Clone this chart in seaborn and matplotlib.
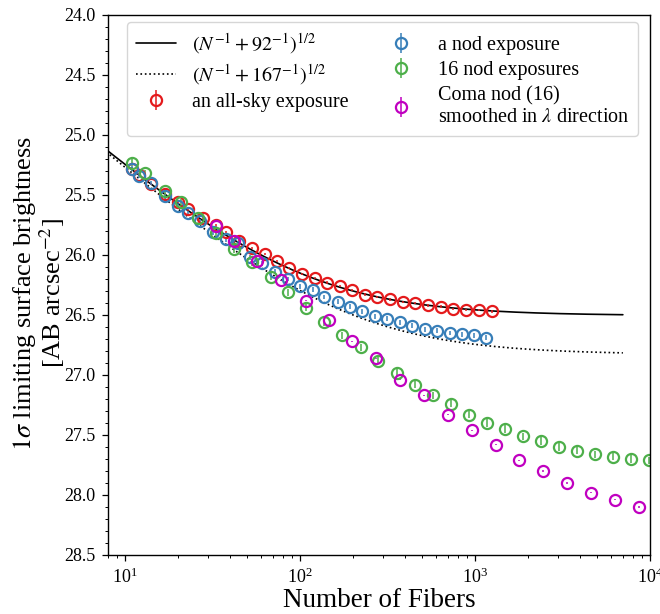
import numpy as np
import pandas as pd
import matplotlib
matplotlib.use("Agg")
import matplotlib.pyplot as plt
from matplotlib.ticker import MultipleLocator, FormatStrFormatter
import seaborn as sns

# ---- measured limiting surface brightness vs. number of fibers ----
allsky_n = [11, 12, 14, 17, 20, 23, 28, 33, 38, 45, 53, 63, 74, 87, 103, 122, 143,
            169, 199, 235, 277, 327, 386, 456, 542, 639, 753, 889, 1050, 1246]
allsky_mu = [25.28, 25.33, 25.41, 25.49, 25.56, 25.62, 25.69, 25.75, 25.81, 25.88,
             25.94, 25.99, 26.05, 26.11, 26.16, 26.19, 26.23, 26.26, 26.29, 26.33,
             26.35, 26.37, 26.39, 26.40, 26.42, 26.43, 26.45, 26.46, 26.46, 26.47]
allsky_err = 0.01

nod_n = [11, 12, 14, 17, 20, 23, 27, 32, 38, 44, 52, 61, 72, 85, 100, 118, 138,
         164, 192, 227, 267, 316, 371, 439, 516, 610, 717, 843, 987, 1162]
nod_mu = [25.28, 25.34, 25.40, 25.51, 25.59, 25.65, 25.72, 25.81, 25.87, 25.90,
          26.02, 26.07, 26.14, 26.20, 26.26, 26.29, 26.35, 26.39, 26.43, 26.47,
          26.51, 26.53, 26.56, 26.59, 26.62, 26.63, 26.65, 26.66, 26.67, 26.69]
nod_err = 0.02

nod16_n = [11, 13, 17, 21, 26, 33, 42, 53, 68, 86, 109, 137, 175, 222, 281, 357,
           452, 573, 726, 924, 1167, 1479, 1881, 2383, 3020, 3828, 4853, 6150,
           7786, 9865]
nod16_mu = [25.23, 25.32, 25.47, 25.56, 25.69, 25.82, 25.95, 26.06, 26.18, 26.31,
            26.44, 26.56, 26.67, 26.77, 26.88, 26.98, 27.08, 27.17, 27.24, 27.33,
            27.40, 27.45, 27.51, 27.55, 27.60, 27.63, 27.66, 27.68, 27.70, 27.71]
nod16_err = 0.03

coma_n = [33, 42, 57, 78, 108, 147, 199, 273, 373, 511, 701, 957, 1313, 1794,
          2459, 3371, 4624, 6339, 8690]
coma_mu = [25.76, 25.88, 26.05, 26.21, 26.38, 26.54, 26.72, 26.86, 27.04, 27.17,
           27.33, 27.46, 27.58, 27.71, 27.80, 27.90, 27.98, 28.04, 28.10]
coma_err = 0.005

# ---- model curves: mu = mu0 - 1.25 log10(1/N + 1/N_sys) ----
mu0 = 24.05
n_sys = [92, 167]
n_model = np.geomspace(5, 7000, 400)

sns.set_style("ticks", {"axes.edgecolor": "black", "xtick.color": "black",
                        "ytick.color": "black", "text.color": "black",
                        "axes.labelcolor": "black"})
plt.rcParams["font.family"] = ["serif"]
plt.rcParams["font.serif"] = ["Liberation Serif", "DejaVu Serif"]
plt.rcParams["mathtext.fontset"] = "stix"
plt.rcParams["xtick.direction"] = "out"
plt.rcParams["ytick.direction"] = "out"

fig = plt.figure(figsize=(6.6, 6.14), dpi=100)
ax = fig.add_axes([0.1636, 0.0961, 0.8212, 0.8795])

label_a = r"$(N^{-1}+92^{-1})^{1/2}$"
label_b = r"$(N^{-1}+167^{-1})^{1/2}$"
model = pd.DataFrame({
    "N": np.concatenate([n_model, n_model]),
    "mu": np.concatenate([mu0 - 1.25 * np.log10(1 / n_model + 1 / n_sys[0]),
                          mu0 - 1.25 * np.log10(1 / n_model + 1 / n_sys[1])]),
    "model": [label_a] * len(n_model) + [label_b] * len(n_model),
})
sns.lineplot(data=model, x="N", y="mu", style="model", color="black",
             dashes=[(None, None), (1, 1.6)], linewidth=1.2, ax=ax,
             legend=False, sort=False)
lines = ax.get_lines()
lines[0].set_linestyle("-")
lines[1].set_linestyle(":")
lines[0].set_label(label_a)
lines[1].set_label(label_b)

mk = dict(fmt="o", mfc="none", ms=8, mew=1.6, elinewidth=1.1, capsize=0)
e_red = ax.errorbar(allsky_n, allsky_mu, yerr=allsky_err, color="#e41a1c",
                    label="an all-sky exposure", **mk)
e_blue = ax.errorbar(nod_n, nod_mu, yerr=nod_err, color="#377eb8",
                     label="a nod exposure", **mk)
e_green = ax.errorbar(nod16_n, nod16_mu, yerr=nod16_err, color="#4daf4a",
                      label="16 nod exposures", **mk)
e_mag = ax.errorbar(coma_n, coma_mu, yerr=coma_err, color="#c000c0",
                    label="Coma nod (16)\nsmoothed in $\\lambda$ direction", **mk)

ax.set_xscale("log")
ax.set_xlim(8, 1e4)
ax.set_ylim(28.5, 24.0)
ax.yaxis.set_major_locator(MultipleLocator(0.5))
ax.yaxis.set_minor_locator(MultipleLocator(0.1))
ax.yaxis.set_major_formatter(FormatStrFormatter("%.1f"))
ax.tick_params(which="major", length=4, width=0.9, labelsize=13, pad=5)
ax.tick_params(which="minor", length=2.2, width=0.7)
for s in ax.spines.values():
    s.set_linewidth(1.0)
    s.set_visible(True)

ax.set_xlabel("Number of Fibers", fontsize=19.5, labelpad=1)
ax.set_ylabel("$1\\sigma$ limiting surface brightness\n[AB arcsec$^{-2}$]",
              fontsize=19, linespacing=0.95)
ax.yaxis.set_label_coords(-0.076, 0.485)

handles = [lines[0], lines[1], e_red, e_blue, e_green, e_mag]
ax.legend(handles=handles, loc="upper left", ncol=2, fontsize=14.5,
          bbox_to_anchor=(0.035, 0.987), borderaxespad=0, handlelength=2.0,
          handletextpad=0.8, columnspacing=1.6, labelspacing=0.3,
          borderpad=0.45, framealpha=0.8, edgecolor="#cccccc")

fig.savefig("out.png", dpi=100)
